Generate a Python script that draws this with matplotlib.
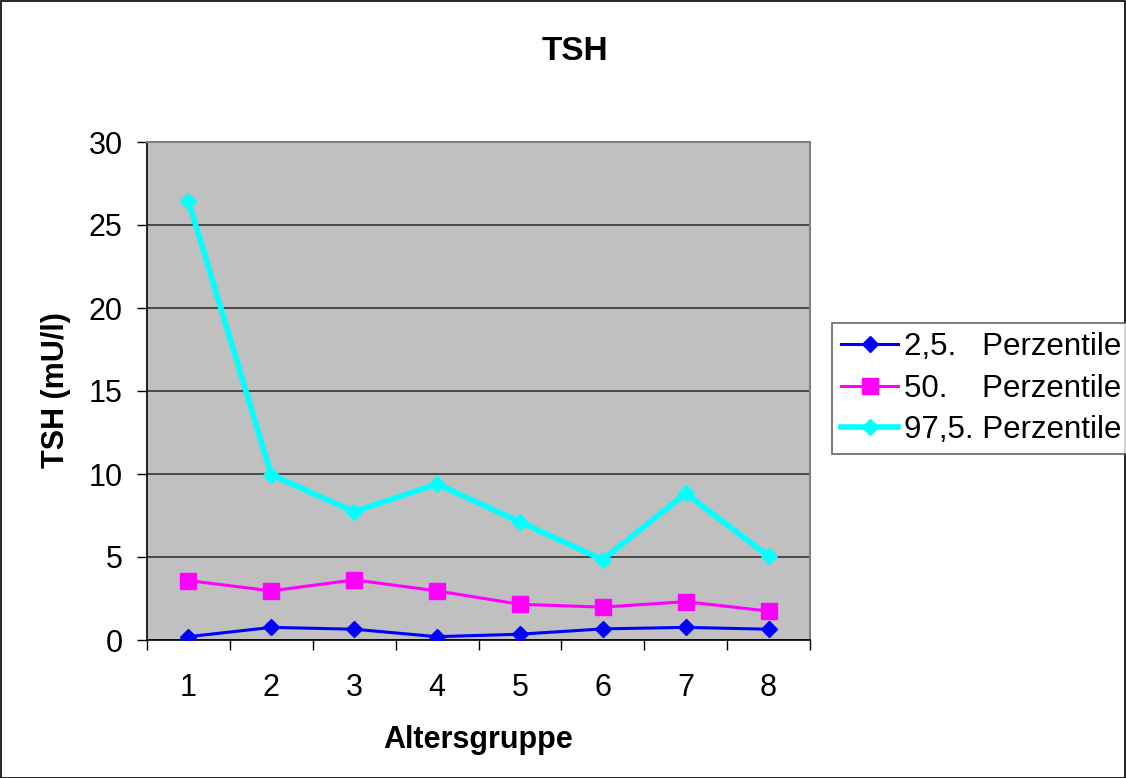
import matplotlib
matplotlib.use("Agg")
import matplotlib.pyplot as plt
from matplotlib.patches import Rectangle

plt.rcParams['font.family'] = ['Liberation Sans', 'DejaVu Sans']

groups = [1, 2, 3, 4, 5, 6, 7, 8]
p2_5 = [0.2, 0.76, 0.65, 0.2, 0.35, 0.67, 0.76, 0.65]
p50 = [3.58, 2.96, 3.62, 2.96, 2.15, 1.98, 2.31, 1.74]
p97_5 = [26.45, 9.95, 7.73, 9.40, 7.11, 4.84, 8.83, 5.05]
labels = ["2,5.   Perzentile", "50.    Perzentile", "97,5. Perzentile"]
yticks = [0, 5, 10, 15, 20, 25, 30]

fig = plt.figure(figsize=(11.26, 7.78), dpi=100)
fig.patches.append(Rectangle((0.0005, 0.0005), 0.999, 0.998, transform=fig.transFigure,
                             fill=False, edgecolor='black', linewidth=1.2))
ax = fig.add_axes([147/1126, 1-640/778, (810-147)/1126, (640-142)/778])
ax.set_facecolor('#C0C0C0')

ax.plot(groups, p2_5, color='#0000FF', lw=2.2, marker='D', ms=8.5, label=labels[0], zorder=3)
ax.plot(groups, p50, color='#FF00FF', lw=2.2, marker='s', ms=11, label=labels[1], zorder=3)
ax.plot(groups, p97_5, color='#00FFFF', lw=4, marker='D', ms=8.5, label=labels[2], zorder=3)

ax.set_xlim(0.5, 8.5)
ax.set_ylim(0, 30)
ax.set_yticks(yticks)
ax.set_yticklabels([str(v) for v in yticks], fontsize=22)
ax.set_xticks(groups)
ax.set_xticklabels([str(g) for g in groups], fontsize=22)
ax.tick_params(axis='x', which='major', length=0, pad=24)
ax.set_xticks([g + 0.5 for g in [0] + groups], minor=True)
ax.tick_params(axis='x', which='minor', length=7.5, width=1, direction='out', color='black')
ax.tick_params(axis='y', length=7.5, width=1, direction='out', pad=10)
ax.grid(axis='y', color='#333333', lw=1.2, zorder=1)
ax.set_axisbelow(True)
for s in ['top', 'right']:
    ax.spines[s].set_color('#808080')
    ax.spines[s].set_linewidth(1.5)
for s in ['left', 'bottom']:
    ax.spines[s].set_color('black')
    ax.spines[s].set_linewidth(1.2)

fig.text(478/1126, 1-740/778, 'Altersgruppe', fontsize=22, fontweight='bold', ha='center', va='center')
fig.text(56/1126, 1-390/778, 'TSH (mU/l)', fontsize=22, fontweight='bold', ha='center', va='center',
         rotation=90)
fig.text(575/1126, 1-51/778, 'TSH', fontsize=24, fontweight='bold', ha='center', va='center')

leg = fig.legend(loc='upper left', bbox_to_anchor=(832/1126, 1-323/778), fontsize=22.5,
                 frameon=True, fancybox=False, edgecolor='#404040', handlelength=1.8,
                 handletextpad=0.2, borderpad=0.3, labelspacing=0.36, borderaxespad=0)
leg.get_frame().set_linewidth(1.2)

fig.savefig('out.png', dpi=100)
